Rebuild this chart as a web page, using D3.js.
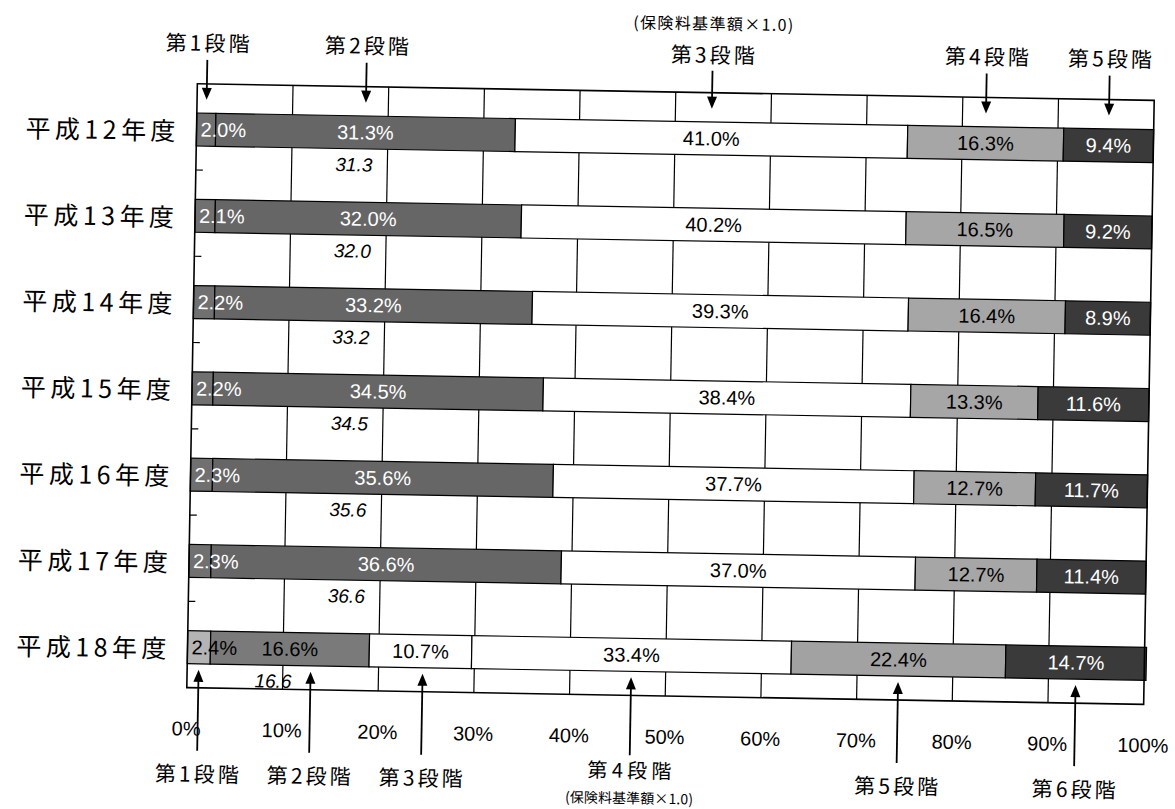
<!DOCTYPE html>
<html><head><meta charset="utf-8">
<script src="https://cdn.jsdelivr.net/npm/d3@7"></script>
<style>html,body{margin:0;padding:0;background:#fff;} svg{display:block}</style>
</head><body>
<svg id="chart" width="1175" height="809"></svg>
<script>
// ---- data ----
const years = ["平成12年度","平成13年度","平成14年度","平成15年度","平成16年度","平成17年度","平成18年度"];
const stage1 = [2.0, 2.1, 2.2, 2.2, 2.3, 2.3, 2.4];
const stage2 = [31.3, 32.0, 33.2, 34.5, 35.6, 36.6, 16.6];
const stage3 = [41.0, 40.2, 39.3, 38.4, 37.7, 37.0, 10.7];
const stage4 = [16.3, 16.5, 16.4, 13.3, 12.7, 12.7, 33.4];
const stage5 = [9.4, 9.2, 8.9, 11.6, 11.7, 11.4, 22.4];
const stage6 = [0, 0, 0, 0, 0, 0, 14.7];
const stageNames = ["第1段階","第2段階","第3段階","第4段階","第5段階","第6段階"];
const baseNote = "(保険料基準額×1.0)";
const xTicks = [0,10,20,30,40,50,60,70,80,90,100];

// ---- styles ----
const oldFills = ["#707070","#666666","#ffffff","#a6a6a6","#3a3a3a"];
const newFills = ["#b4b4b4","#7a7a7a","#ffffff","#ffffff","#a2a2a2","#3a3a3a"];
const CJK = "'Noto Sans CJK JP', sans-serif";
const LAT = "'Liberation Sans', Arial, sans-serif";

const svg = d3.select("#chart");
const root = svg.append("g").attr("transform","rotate(1 670 394)");

const pL = 192, pR = 1149, pT = 92, pB = 696;
const x = d3.scaleLinear().domain([0,100]).range([pL,pR]);
const y = d3.scaleBand().domain(years).range([pT,pB])
  .paddingInner(0.6176).paddingOuter(0.3088).align(0.55);
const step = y.step();

const keys = ["s1","s2","s3","s4","s5","s6"];
const rows = years.map((yr,i)=>({year:yr, idx:i, s1:stage1[i], s2:stage2[i], s3:stage3[i], s4:stage4[i], s5:stage5[i], s6:stage6[i]}));
const series = d3.stack().keys(keys)(rows);
const isNew = i => stage6[i] > 0;
const fillOf = (k,i) => isNew(i) ? newFills[k] : oldFills[k];
const lum = c => { const r = d3.rgb(c); return (0.299*r.r+0.587*r.g+0.114*r.b)/255; };

// vertical gridlines
root.append("g").selectAll("line").data(xTicks.slice(1,-1)).join("line")
  .attr("x1",d=>x(d)).attr("x2",d=>x(d)).attr("y1",pT).attr("y2",pB)
  .attr("stroke","#000").attr("stroke-width",1.2);

// bars
const segs = [];
series.forEach((s,k)=>{ s.forEach((d,i)=>{ if(d[1]-d[0] > 0) segs.push({k,i,x0:d[0],x1:d[1],v:d[1]-d[0]}); }); });
root.append("g").selectAll("rect").data(segs).join("rect")
  .attr("x",d=>x(d.x0)).attr("width",d=>x(d.x1)-x(d.x0))
  .attr("y",d=>y(years[d.i])).attr("height",y.bandwidth())
  .attr("fill",d=>fillOf(d.k,d.i)).attr("stroke","#000").attr("stroke-width",1.2);

// bar labels
root.append("g").selectAll("text").data(segs).join("text")
  .attr("x",d=> d.k===0 ? x(d.x0)+4 : x((d.x0+d.x1)/2))
  .attr("text-anchor",d=> d.k===0 ? "start" : "middle")
  .attr("y",d=>y(years[d.i])+y.bandwidth()/2)
  .attr("dominant-baseline","central")
  .attr("font-family",LAT).attr("font-size",20)
  .attr("fill",d=>{ const f = d.k===0 ? fillOf(1,d.i) : fillOf(d.k,d.i); return lum(f) < 0.45 ? "#fff" : "#000"; })
  .text(d=>d.v.toFixed(1)+"%");

// frame
root.append("rect").attr("x",pL).attr("y",pT).attr("width",pR-pL).attr("height",pB-pT)
  .attr("fill","none").attr("stroke","#000").attr("stroke-width",1.6);

// category ticks (inside, between categories)
root.append("g").selectAll("line").data(d3.range(1,years.length)).join("line")
  .attr("x1",pL).attr("x2",pL+7).attr("y1",k=>pT+k*step).attr("y2",k=>pT+k*step)
  .attr("stroke","#000").attr("stroke-width",1.2);

// row labels
root.append("g").selectAll("text").data(years).join("text")
  .attr("x",pL-21).attr("y",d=>y(d)+y.bandwidth()/2)
  .attr("text-anchor","end").attr("dominant-baseline","central")
  .attr("font-family",CJK).attr("font-size",25)
  .attr("textLength",150).attr("lengthAdjust","spacing")
  .text(d=>d);

// handwritten notes (stage 2 values)
root.append("g").selectAll("text").data(stage2).join("text")
  .attr("x",(d,i)=> x(d > 20 ? 16.5 : 9))
  .attr("y",(d,i)=>y(years[i])+y.bandwidth()+16)
  .attr("text-anchor","middle").attr("dominant-baseline","central")
  .attr("font-family",LAT).attr("font-style","italic").attr("font-size",19)
  .text(d=>d.toFixed(1));

// x tick labels
root.append("g").selectAll("text").data(xTicks).join("text")
  .attr("x",d=>x(d)).attr("y",737).attr("text-anchor","middle").attr("dominant-baseline","central")
  .attr("font-family",LAT).attr("font-size",20)
  .text(d=>d+"%");

// arrows
function arrow(g, xc, yFrom, yTip){
  const dir = yTip > yFrom ? 1 : -1;
  g.append("line").attr("x1",xc).attr("x2",xc).attr("y1",yFrom).attr("y2",yTip - dir*10)
    .attr("stroke","#000").attr("stroke-width",1.8);
  g.append("path").attr("d",`M${xc-5},${yTip-dir*12}L${xc+5},${yTip-dir*12}L${xc},${yTip}Z`).attr("fill","#000");
}

// top annotations: old scheme (row 0)
const ann = root.append("g");
const mid = (k,i) => { const d = series[k][i]; return x((d[0]+d[1])/2); };
for(let k=0;k<5;k++){
  const cx = mid(k,0);
  ann.append("text").attr("x",cx).attr("y",k===2 ? 53 : 50).attr("text-anchor","middle").attr("dominant-baseline","central")
    .attr("font-family",CJK).attr("font-size",21).attr("textLength",84).attr("lengthAdjust","spacing")
    .text(stageNames[k]);
  arrow(ann, cx, k===2 ? 70 : 68, 108);
}
ann.append("text").attr("x",mid(2,0)).attr("y",22).attr("text-anchor","middle").attr("dominant-baseline","central")
  .attr("font-family",CJK).attr("font-size",16).attr("textLength",160).attr("lengthAdjust","spacing")
  .text(baseNote);

// bottom annotations: new scheme (row 6), spaced so labels don't collide
let prev = -Infinity;
for(let k=0;k<6;k++){
  const cx = Math.max(mid(k,6), prev + 112);
  prev = cx;
  ann.append("text").attr("x",cx).attr("y",k===3 ? 770 : 781).attr("text-anchor","middle").attr("dominant-baseline","central")
    .attr("font-family",CJK).attr("font-size",k===3 ? 20 : 21).attr("textLength",84).attr("lengthAdjust","spacing")
    .text(stageNames[k]);
  arrow(ann, cx, k===3 ? 756 : 759, 678);
  if(k===3){
    ann.append("text").attr("x",cx).attr("y",798).attr("text-anchor","middle").attr("dominant-baseline","central")
      .attr("font-family",CJK).attr("font-size",14).attr("textLength",128).attr("lengthAdjust","spacing")
      .text(baseNote);
  }
}
</script>
</body></html>
